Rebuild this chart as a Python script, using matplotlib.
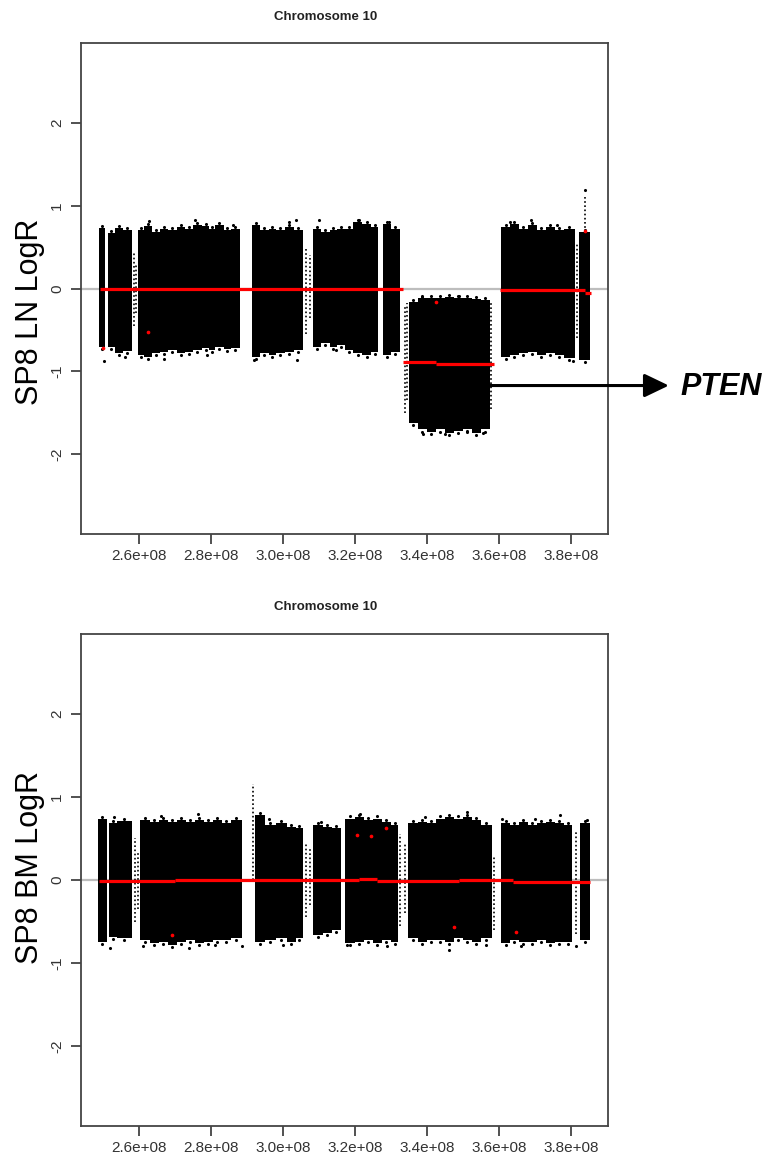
import matplotlib
matplotlib.use('Agg')
import matplotlib.pyplot as plt

plt.rcParams['font.family'] = ['Liberation Sans', 'DejaVu Sans']

# x positions in Mb (cumulative genome coordinate), values are LogR
x_ticks = [260, 280, 300, 320, 340, 360, 380]
x_tick_labels = ['2.6e+08', '2.8e+08', '3.0e+08', '3.2e+08', '3.4e+08', '3.6e+08', '3.8e+08']
y_ticks = [-2, -1, 0, 1, 2]
y_tick_labels = ['-2', '-1', '0', '1', '2']

# SP8 LN: probe density bins (left, right, upper and lower edge of the point cloud)
ln_left = [248.9, 251.4, 253.3, 255.5, 259.7, 261.5, 263.5, 265.8, 268.0, 270.5, 272.8, 275.0,
           277.5, 279.5, 281.1, 283.5, 285.5, 291.4, 293.5, 296.0, 298.0, 300.5, 303.0, 308.3,
           310.5, 313.0, 315.0, 317.2, 319.5, 322.0, 324.5, 327.9, 330.0, 335.0, 337.5, 340.0,
           342.5, 345.0, 347.5, 350.0, 352.5, 355.0, 360.7, 363.0, 365.5, 368.0, 370.5, 373.0,
           375.5, 378.0, 382.3]
ln_right = [250.6, 253.3, 255.5, 258.1, 261.5, 263.5, 265.8, 268.0, 270.5, 272.8, 275.0, 277.5,
            279.5, 281.1, 283.5, 285.5, 288.1, 293.5, 296.0, 298.0, 300.5, 303.0, 305.6, 310.5,
            313.0, 315.0, 317.2, 319.5, 322.0, 324.5, 326.4, 330.0, 332.5, 337.5, 340.0, 342.5,
            345.0, 347.5, 350.0, 352.5, 355.0, 357.4, 363.0, 365.5, 368.0, 370.5, 373.0, 375.5,
            378.0, 381.0, 385.3]
ln_top = [0.73, 0.67, 0.73, 0.70, 0.70, 0.75, 0.68, 0.72, 0.70, 0.74, 0.72, 0.77,
          0.75, 0.72, 0.76, 0.70, 0.72, 0.76, 0.70, 0.72, 0.70, 0.74, 0.70, 0.72,
          0.68, 0.70, 0.72, 0.72, 0.80, 0.78, 0.74, 0.78, 0.72, -0.16, -0.12, -0.12,
          -0.12, -0.10, -0.12, -0.11, -0.13, -0.14, 0.74, 0.78, 0.72, 0.76, 0.70, 0.74,
          0.70, 0.72, 0.68]
ln_bottom = [-0.71, -0.70, -0.78, -0.75, -0.80, -0.82, -0.78, -0.76, -0.74, -0.78, -0.76, -0.74,
             -0.72, -0.74, -0.70, -0.73, -0.72, -0.82, -0.78, -0.80, -0.78, -0.76, -0.74, -0.70,
             -0.66, -0.70, -0.68, -0.74, -0.78, -0.80, -0.76, -0.80, -0.76, -1.62, -1.70, -1.73,
             -1.70, -1.74, -1.72, -1.70, -1.74, -1.70, -0.82, -0.80, -0.78, -0.76, -0.80, -0.78,
             -0.80, -0.84, -0.86]
# sparse columns (drawn dotted)
ln_sparse_x = [258.5, 259.2, 306.3, 307.5, 333.8, 334.6, 357.9, 381.7, 383.9]
ln_sparse_lo = [-0.45, -0.30, -0.55, -0.35, -1.50, -1.35, -1.45, -0.60, 0.68]
ln_sparse_hi = [0.45, 0.30, 0.50, 0.40, -0.22, -0.18, -0.15, 0.55, 1.10]
# segment means (red)
ln_seg_start = [249.2, 333.3, 342.5, 360.3, 383.9]
ln_seg_end = [333.3, 342.5, 358.6, 383.9, 385.6]
ln_seg_mean = [-0.01, -0.89, -0.915, -0.02, -0.055]
ln_red_x = [250.0, 262.5, 342.5, 383.9]
ln_red_y = [-0.72, -0.53, -0.16, 0.69]
ln_out_x = [250.2, 256.0, 262.7, 267.0, 275.5, 279.0, 286.0, 292.0, 301.8, 303.9, 310.0, 314.7,
            321.0, 329.5, 383.9, 339.0, 345.0, 351.0, 355.5, 363.0, 369.0, 376.0, 380.5, 303.5,
            338.5, 349.0]
ln_out_y = [-0.88, -0.82, 0.81, -0.85, 0.82, -0.80, 0.77, -0.86, 0.80, -0.86, 0.82, -0.74,
            0.83, 0.80, 1.19, -1.76, -1.75, -1.72, -1.74, 0.80, 0.82, 0.77, -0.88, 0.83,
            -0.10, -0.09]

# SP8 BM
bm_left = [248.7, 251.8, 253.8, 260.3, 263.0, 265.5, 268.0, 270.5, 273.0, 275.5, 278.0, 280.5,
           283.0, 285.5, 292.2, 295.0, 298.0, 301.0, 303.5, 308.4, 311.0, 313.5, 317.2, 320.0,
           322.5, 325.0, 327.5, 330.0, 334.8, 337.5, 340.0, 342.5, 345.0, 347.5, 350.0, 352.5,
           355.0, 360.7, 363.0, 365.5, 368.0, 370.5, 373.0, 375.5, 378.0, 382.5]
bm_right = [251.0, 253.8, 258.0, 263.0, 265.5, 268.0, 270.5, 273.0, 275.5, 278.0, 280.5, 283.0,
            285.5, 288.5, 295.0, 298.0, 301.0, 303.5, 305.6, 311.0, 313.5, 316.0, 320.0, 322.5,
            325.0, 327.5, 330.0, 332.0, 337.5, 340.0, 342.5, 345.0, 347.5, 350.0, 352.5, 355.0,
            358.0, 363.0, 365.5, 368.0, 370.5, 373.0, 375.5, 378.0, 380.3, 385.3]
bm_top = [0.73, 0.69, 0.71, 0.72, 0.70, 0.72, 0.70, 0.72, 0.70, 0.72, 0.70, 0.72,
          0.68, 0.72, 0.78, 0.66, 0.68, 0.64, 0.62, 0.66, 0.64, 0.62, 0.74, 0.76,
          0.72, 0.74, 0.70, 0.66, 0.68, 0.70, 0.68, 0.74, 0.76, 0.74, 0.76, 0.72,
          0.66, 0.68, 0.66, 0.70, 0.66, 0.68, 0.70, 0.68, 0.66, 0.68]
bm_bottom = [-0.74, -0.68, -0.70, -0.72, -0.76, -0.74, -0.78, -0.74, -0.72, -0.76, -0.74, -0.72,
             -0.72, -0.70, -0.74, -0.72, -0.70, -0.74, -0.70, -0.66, -0.64, -0.60, -0.76, -0.74,
             -0.72, -0.76, -0.72, -0.74, -0.70, -0.74, -0.72, -0.72, -0.74, -0.70, -0.72, -0.74,
             -0.70, -0.76, -0.72, -0.74, -0.74, -0.72, -0.76, -0.74, -0.74, -0.72]
bm_sparse_x = [258.8, 259.6, 291.6, 306.3, 307.6, 332.6, 333.9, 358.6, 381.3]
bm_sparse_lo = [-0.50, -0.35, 0.00, -0.45, -0.30, -0.55, -0.40, -0.60, -0.65]
bm_sparse_hi = [0.50, 0.35, 1.16, 0.45, 0.40, 0.55, 0.45, 0.30, 0.60]
bm_seg_start = [248.8, 270.0, 321.0, 326.0, 349.0, 364.0]
bm_seg_end = [270.0, 321.0, 326.0, 349.0, 364.0, 385.3]
bm_seg_mean = [-0.015, -0.005, 0.01, -0.01, -0.005, -0.02]
bm_red_x = [269.2, 320.6, 324.4, 328.6, 347.5, 364.8]
bm_red_y = [-0.66, 0.545, 0.53, 0.63, -0.56, -0.62]
bm_out_x = [252.0, 261.0, 266.0, 274.0, 276.5, 281.0, 288.5, 296.0, 300.0, 310.5, 317.8, 321.5,
            329.0, 339.5, 346.0, 351.0, 356.5, 360.9, 366.0, 370.0, 377.0, 381.5, 384.5, 253.0]
bm_out_y = [-0.82, -0.80, 0.77, -0.82, 0.79, -0.78, -0.80, 0.74, -0.78, 0.70, -0.78, 0.80,
            -0.80, 0.76, -0.84, 0.82, -0.78, 0.74, -0.80, 0.74, 0.78, -0.80, 0.72, 0.76]


def draw_panel(ax, left, right, top, bottom, sp_x, sp_lo, sp_hi,
               seg_start, seg_end, seg_mean, red_x, red_y, out_x, out_y, ylabel, label_y):
    ax.axhline(0, color='#bdbdbd', lw=1.6, zorder=1)
    widths = [(r - l) * 1e6 for l, r in zip(left, right)]
    heights = [t - b for t, b in zip(top, bottom)]
    ax.bar([l * 1e6 for l in left], heights, width=widths, bottom=bottom,
           align='edge', color='black', linewidth=0, zorder=2)
    # speckled edges of the clouds
    mids = [(l + r) / 2 * 1e6 for l, r in zip(left, right)]
    ax.scatter(mids, [t + 0.025 for t in top], s=5, color='black', zorder=2, linewidths=0)
    ax.scatter(mids, [b - 0.025 for b in bottom], s=5, color='black', zorder=2, linewidths=0)
    ax.vlines([x * 1e6 for x in sp_x], sp_lo, sp_hi, colors='black', lw=1.2,
              linestyles=(0, (1, 1.5)), zorder=2)
    ax.scatter([x * 1e6 for x in out_x], out_y, s=5, color='black', zorder=2, linewidths=0)
    ax.hlines(seg_mean, [s * 1e6 for s in seg_start], [e * 1e6 for e in seg_end],
              colors='red', lw=2.3, zorder=3)
    ax.scatter([x * 1e6 for x in red_x], red_y, s=7, color='red', zorder=4, linewidths=0)

    ax.set_xlim(243.9e6, 390.3e6)
    ax.set_ylim(-2.96, 2.96)
    ax.set_xticks([x * 1e6 for x in x_ticks])
    ax.set_xticklabels(x_tick_labels, fontsize=11, color='#333333')
    ax.set_yticks(y_ticks)
    ax.set_yticklabels(y_tick_labels, fontsize=11, color='#333333', rotation=90, va='center')
    ax.tick_params(axis='both', length=7, width=1.2, color='#333333')
    ax.tick_params(axis='x', pad=4)
    ax.tick_params(axis='y', pad=5)
    for sp in ax.spines.values():
        sp.set_linewidth(1.3)
        sp.set_color('#444444')
    fig = ax.figure
    fig.text(30 / 769, 1 - label_y / 1158, ylabel, rotation=90, fontsize=22,
             ha='center', va='center')


fig = plt.figure(figsize=(7.69, 11.58), dpi=100)
ax1 = fig.add_axes([81 / 769, 1 - 534 / 1158, 527 / 769, 491 / 1158])
ax2 = fig.add_axes([81 / 769, 1 - 1126 / 1158, 527 / 769, 492 / 1158])

draw_panel(ax1, ln_left, ln_right, ln_top, ln_bottom, ln_sparse_x, ln_sparse_lo, ln_sparse_hi,
           ln_seg_start, ln_seg_end, ln_seg_mean, ln_red_x, ln_red_y, ln_out_x, ln_out_y,
           'SP8 LN LogR', 312)
draw_panel(ax2, bm_left, bm_right, bm_top, bm_bottom, bm_sparse_x, bm_sparse_lo, bm_sparse_hi,
           bm_seg_start, bm_seg_end, bm_seg_mean, bm_red_x, bm_red_y, bm_out_x, bm_out_y,
           'SP8 BM LogR', 867)

fig.text(326 / 769, 1 - 17 / 1158, 'Chromosome 10', fontsize=9.5, fontweight='bold',
         ha='center', va='center', color='#222222')
fig.text(326 / 769, 1 - 607 / 1158, 'Chromosome 10', fontsize=9.5, fontweight='bold',
         ha='center', va='center', color='#222222')

# PTEN arrow
ax1.annotate('', xy=(407.2e6, -1.17), xytext=(356.8e6, -1.17), annotation_clip=False,
             arrowprops=dict(arrowstyle='-|>,head_length=1.0,head_width=0.48', mutation_scale=15,
                             lw=2.2, color='black', shrinkA=0, shrinkB=0))
fig.text(680 / 769, 1 - 387 / 1158, 'PTEN', fontsize=22, fontweight='bold', style='italic',
         ha='left', va='center')

fig.savefig('out.png', dpi=100)
